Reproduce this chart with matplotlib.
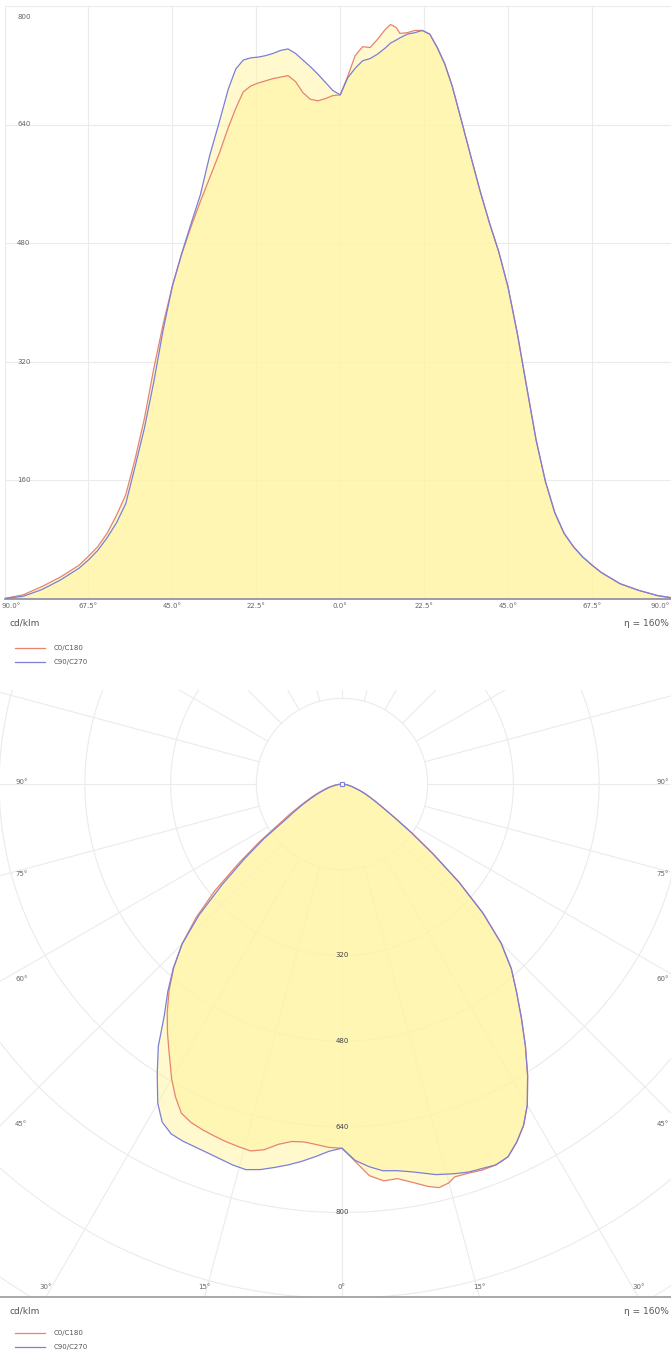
import numpy as np
import matplotlib
matplotlib.use("Agg")
import matplotlib.pyplot as plt
from matplotlib.lines import Line2D

# gamma angles (deg) and luminous intensity (cd/klm)
angles = [-90, -85, -80, -75, -70, -67.5, -65, -62.5, -60, -57.5, -55, -52.5, -50,
          -47.5, -45, -42.5, -40, -37.5, -35, -32.5, -30, -28, -26, -24, -22, -20,
          -18, -16, -14, -12, -10, -8, -6, -4, -2, 0, 2, 4, 6, 8, 10, 12, 13.5, 15,
          16, 18, 20, 22, 24, 26, 28, 30, 32.5, 35, 37.5, 40, 42.5, 45, 47.5, 50,
          52.5, 55, 57.5, 60, 62.5, 65, 67.5, 70, 75, 80, 85, 90]
c0_c180 = [0, 5, 16, 29, 45, 57, 70, 88, 112, 140, 188, 243, 310,
           370, 422, 465, 502, 536, 568, 600, 636, 662, 684, 692, 696, 699,
           702, 704, 706, 698, 683, 674, 672, 675, 679, 680, 705, 733, 745, 744, 755, 768, 775, 771,
           763, 764, 767, 767, 762, 744, 722, 692, 645, 597, 550, 507, 468, 420, 357, 285,
           214, 158, 116, 88, 70, 56, 45, 35, 20, 11, 4, 0]
c90_c270 = [0, 3, 12, 25, 41, 52, 65, 82, 102, 128, 178, 230, 292,
            362, 422, 466, 506, 545, 598, 642, 688, 715, 727, 730, 731, 733,
            736, 740, 742, 736, 727, 718, 708, 697, 686, 680, 703, 716, 726, 729, 735, 743, 750, 754,
            757, 762, 764, 767, 762, 744, 722, 692, 645, 597, 550, 507, 468, 420, 357, 285,
            214, 158, 116, 88, 70, 56, 45, 35, 20, 11, 4, 0]

series = [("C0/C180", c0_c180), ("C90/C270", c90_c270)]
x_ticks = [-90, -67.5, -45, -22.5, 0, 22.5, 45, 67.5, 90]
y_ticks = [160, 320, 480, 640, 800]
ring_labels = [320, 480, 640, 800]
polar_label_angles = [-90, -75, -60, -45, -30, -15, 0, 15, 30, 45, 60, 75, 90]

colors = {"C0/C180": "#e8836f", "C90/C270": "#7b7fd8"}
FILL = "#fff59d"
GRID = "#ebebeb"
TXT = "#666666"

W, H = 671, 1351
fig = plt.figure(figsize=(W / 100, H / 100), dpi=100)
plt.rcParams["font.family"] = ["DejaVu Sans"]


def fx(px):
    return px / W


def fy(py):
    return 1 - py / H


# ---------------- top: cartesian diagram ----------------
ax = fig.add_axes([fx(4.5), fy(598.5), 671.5 / W, 592.5 / H])
for name, vals in series:
    ax.fill_between(angles, vals, color=FILL, alpha=0.5, lw=0, zorder=1)
for name, vals in series:
    ax.plot(angles, vals, color=colors[name], lw=0.9, zorder=3)
ax.set_xlim(-90, 90)
ax.set_ylim(0, 800)
# end labels are drawn separately so they stay inside the picture
ax.set_xticks(x_ticks, ["" if abs(t) == 90 else f"{abs(t):.1f}°" for t in x_ticks])
ax.set_yticks(y_ticks)
ax.set_yticklabels([])
ax.grid(color=GRID, lw=0.8, zorder=0)
ax.set_axisbelow(True)
ax.tick_params(length=0, labelsize=5, labelcolor=TXT, pad=3)
for s in ["top", "right", "left"]:
    ax.spines[s].set_visible(False)
ax.spines["bottom"].set_color("#8a8aa0")
ax.spines["bottom"].set_linewidth(1.2)
for t in y_ticks:
    ax.annotate(str(t), (-90, t), xytext=(12.5, -11 if t == 800 else 0),
                textcoords="offset pixels", ha="left", va="center",
                fontsize=5, color=TXT)
ax.annotate(f"{abs(x_ticks[0]):.1f}°", (x_ticks[0], 0), xytext=(-3, -4),
            textcoords="offset pixels", ha="left", va="top", fontsize=5, color=TXT)
ax.annotate(f"{abs(x_ticks[-1]):.1f}°", (x_ticks[-1], 0), xytext=(-6, -4),
            textcoords="offset pixels", ha="right", va="top", fontsize=5, color=TXT)


def legend_block(y_unit, y_first):
    fig.text(fx(10), fy(y_unit), "cd/klm", fontsize=6.5, color="#555555",
             ha="left", va="center")
    fig.text(fx(669), fy(y_unit), "η = 160%", fontsize=6.5, color="#555555",
             ha="right", va="center")
    for i, (name, _) in enumerate(series):
        yy = y_first + 14 * i
        fig.add_artist(Line2D([fx(15), fx(45)], [fy(yy), fy(yy)],
                              color=colors[name], lw=0.9))
        fig.text(fx(54), fy(yy), name, fontsize=5, color="#555555",
                 ha="left", va="center")


legend_block(623, 648)

# ---------------- bottom: polar diagram ----------------
k = 85.7 / 160          # px per cd/klm
cx, cy = 342, 784       # pole position in pixels
top, bot, right = 690, 1297, 684
ax2 = fig.add_axes([0, fy(bot), right / W, (bot - top) / H])
ax2.set_xlim(-cx / k, (right - cx) / k)
ax2.set_ylim(-(bot - cy) / k, (cy - top) / k)
ax2.set_xticks([])
ax2.set_yticks([])
for s in ["top", "right", "left"]:
    ax2.spines[s].set_visible(False)
ax2.spines["bottom"].set_color("#9a9a9a")
ax2.spines["bottom"].set_linewidth(1.2)

t = np.linspace(0, 2 * np.pi, 721)
for r in range(160, 1600, 160):
    ax2.plot(r * np.cos(t), r * np.sin(t), color=GRID, lw=0.8, zorder=0)
for a in np.radians(np.arange(0, 360, 15)):
    ax2.plot([160 * np.sin(a), 1800 * np.sin(a)], [-160 * np.cos(a), -1800 * np.cos(a)],
             color=GRID, lw=0.8, zorder=0)

th = np.radians(angles)
for name, vals in series:
    v = np.array(vals, dtype=float)
    ax2.fill(v * np.sin(th), -v * np.cos(th), color=FILL, alpha=0.5, lw=0, zorder=1)
for name, vals in series:
    v = np.array(vals, dtype=float)
    ax2.plot(v * np.sin(th), -v * np.cos(th), color=colors[name], lw=0.9, zorder=3)
ax2.plot(0, 0, "s", mfc="white", mec=colors["C90/C270"], ms=3.2, mew=0.8, zorder=4)

for r in ring_labels:
    ax2.text(0, -r, str(r), fontsize=5, color="#444444", ha="center", va="center", zorder=5)

x0, x1 = ax2.get_xlim()
y0 = ax2.get_ylim()[0]
for ang in polar_label_angles:
    a = np.radians(ang)
    dx, dy = np.sin(a), -np.cos(a)
    cands = []
    if dx < 0:
        cands.append((x0 / dx, "left"))
    if dx > 0:
        cands.append((x1 / dx, "right"))
    if dy < 0:
        cands.append((y0 / dy, "bottom"))
    tt, side = min(cands)
    px, py = tt * dx, tt * dy
    if side == "left":
        off, ha, va = (15, 2), "left", "center"
    elif side == "right":
        off, ha, va = (-15, 2), "right", "center"
    else:
        off, ha, va = (0, 10), "center", "center"
    ax2.annotate(f"{abs(ang)}°", (px, py), xytext=off, textcoords="offset pixels",
                 ha=ha, va=va, fontsize=5, color=TXT, zorder=5)

legend_block(1311, 1333)

fig.savefig("out.png", dpi=100)
